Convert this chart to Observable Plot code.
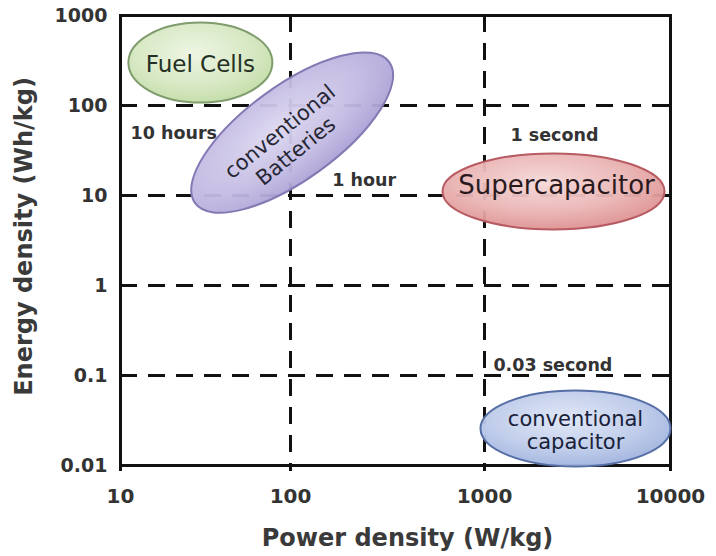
<!DOCTYPE html>
<html><head><meta charset="utf-8">
<script src="https://cdn.jsdelivr.net/npm/d3@7"></script>
<script src="https://cdn.jsdelivr.net/npm/@observablehq/plot@0.6"></script>
<style>body{margin:0;background:#fff;}</style>
</head><body><div id="chart"></div>
<script>
// ---- data ----
const powerTicks = [10, 100, 1000, 10000];
const energyTicks = [0.01, 0.1, 1, 10, 100, 1000];
const gridPower = [100, 1000];
const gridEnergy = [0.1, 1, 10, 100];

const techNames = ["Fuel Cells", "conventional\nBatteries", "Supercapacitor", "conventional\ncapacitor"];
const techPower = [29.5, 102, 2350, 3085];      // W/kg (centre of region)
const techEnergy = [300, 50, 11.1, 0.0258];     // Wh/kg (centre of region)

const timeLabels = ["10 hours", "1 hour", "1 second", "0.03 second"];
const timePower = [11.45, 164, 1380, 1117];
const timeEnergy = [48.9, 14.7, 46.4, 0.129];

// ---- styling (not data) ----
const looks = [
  {id: "gFuel", light: "#edf5e2", dark: "#bcd99e", stroke: "#7f9c6c", rx: 72, ry: 40, rotate: 0,
   fontSize: 23, textRotate: 0, dx: 0, dy: 2, lineHeight: 1, color: "#243024"},
  {id: "gBatt", light: "#ddd8f1", dark: "#a69ad2", stroke: "#8479b3", rx: 120, ry: 47, rotate: -36,
   fontSize: 21, textRotate: -39, dx: -5, dy: 8, lineHeight: 1.2, color: "#262633"},
  {id: "gSuper", light: "#f6d9d9", dark: "#db8787", stroke: "#b85a62", rx: 111, ry: 38, rotate: 0,
   fontSize: 26, textRotate: 0, dx: 3, dy: -6, lineHeight: 1, color: "#2a1a1e"},
  {id: "gCap", light: "#dfe6f6", dark: "#97acdb", stroke: "#566ea6", rx: 95, ry: 38, rotate: 0,
   fontSize: 21, textRotate: 0, dx: 0, dy: 2, lineHeight: 1.05, color: "#18223a"}
];

const techs = techNames.map((name, i) => ({name, power: techPower[i], energy: techEnergy[i]}));
const times = timeLabels.map((label, i) => ({label, power: timePower[i], energy: timeEnergy[i]}));

function ellipseSymbol(aspect) {
  return {
    draw(ctx, size) {
      const rx = Math.sqrt(size / Math.PI), ry = rx * aspect, k = 0.5522848;
      ctx.moveTo(rx, 0);
      ctx.bezierCurveTo(rx, ry * k, rx * k, ry, 0, ry);
      ctx.bezierCurveTo(-rx * k, ry, -rx, ry * k, -rx, 0);
      ctx.bezierCurveTo(-rx, -ry * k, -rx * k, -ry, 0, -ry);
      ctx.bezierCurveTo(rx * k, -ry, rx, -ry * k, rx, 0);
      ctx.closePath();
    }
  };
}

const defs = () => {
  const d = d3.create("svg:defs");
  for (const l of looks) {
    const g = d.append("radialGradient").attr("id", l.id)
      .attr("cx", "45%").attr("cy", "38%").attr("r", "70%");
    g.append("stop").attr("offset", "0%").attr("stop-color", l.light);
    g.append("stop").attr("offset", "55%").attr("stop-color", d3.interpolateRgb(l.light, l.dark)(0.45));
    g.append("stop").attr("offset", "100%").attr("stop-color", l.dark);
  }
  return d.node();
};

const dash = {stroke: "#111", strokeWidth: 3, strokeDasharray: "17,11"};
const FONT = "DejaVu Sans";

const marks = [
  defs,
  Plot.ruleX(gridPower, dash),
  Plot.ruleY(gridEnergy, dash),
  Plot.frame({stroke: "#111", strokeWidth: 3}),
  Plot.axisX(powerTicks, {tickSize: 6, tickPadding: 17, stroke: "#111", strokeWidth: 3,
    fontSize: 20, fontWeight: "bold", fill: "#333", tickFormat: d => String(d), label: null}),
  Plot.axisY(energyTicks, {tickSize: 0, tickPadding: 13, fontSize: 19, fontWeight: "bold",
    fill: "#333", tickFormat: d => String(d), label: null}),
  Plot.text(["Power density (W/kg)"], {frameAnchor: "bottom", dx: 12, dy: 73, fontSize: 24,
    fontWeight: "bold", fill: "#3a3a3a", textAnchor: "middle", lineAnchor: "middle"}),
  Plot.text(["Energy density (Wh/kg)"], {frameAnchor: "left", dx: -96, dy: -4, rotate: -90,
    fontSize: 24, fontWeight: "bold", fill: "#3a3a3a", textAnchor: "middle", lineAnchor: "middle"})
];

techs.forEach((t, i) => {
  const l = looks[i];
  marks.push(Plot.dot([t], {x: "power", y: "energy", r: l.rx, symbol: ellipseSymbol(l.ry / l.rx),
    rotate: l.rotate, fill: `url(#${l.id})`, stroke: l.stroke, strokeWidth: 2, fillOpacity: 0.95}));
});
techs.forEach((t, i) => {
  const l = looks[i];
  marks.push(Plot.text([t], {x: "power", y: "energy", text: "name", rotate: l.textRotate,
    dx: l.dx, dy: l.dy, fontSize: l.fontSize, lineHeight: l.lineHeight, fill: l.color,
    lineAnchor: "middle"}));
});
marks.push(Plot.text(times, {x: "power", y: "energy", text: "label", textAnchor: "start",
  lineAnchor: "middle", fontSize: 17.5, fontWeight: "bold", fill: "#333"}));

const chart = Plot.plot({
  width: 716,
  height: 556,
  marginLeft: 120,
  marginRight: 46,
  marginTop: 15,
  marginBottom: 91,
  style: {fontFamily: FONT, background: "#fff", color: "#111"},
  x: {type: "log", domain: [10, 100, 1000, 10000], range: [120, 290, 484, 670]},
  y: {type: "log", domain: [0.01, 1000]},
  marks
});
document.getElementById("chart").appendChild(chart);
</script></body></html>
